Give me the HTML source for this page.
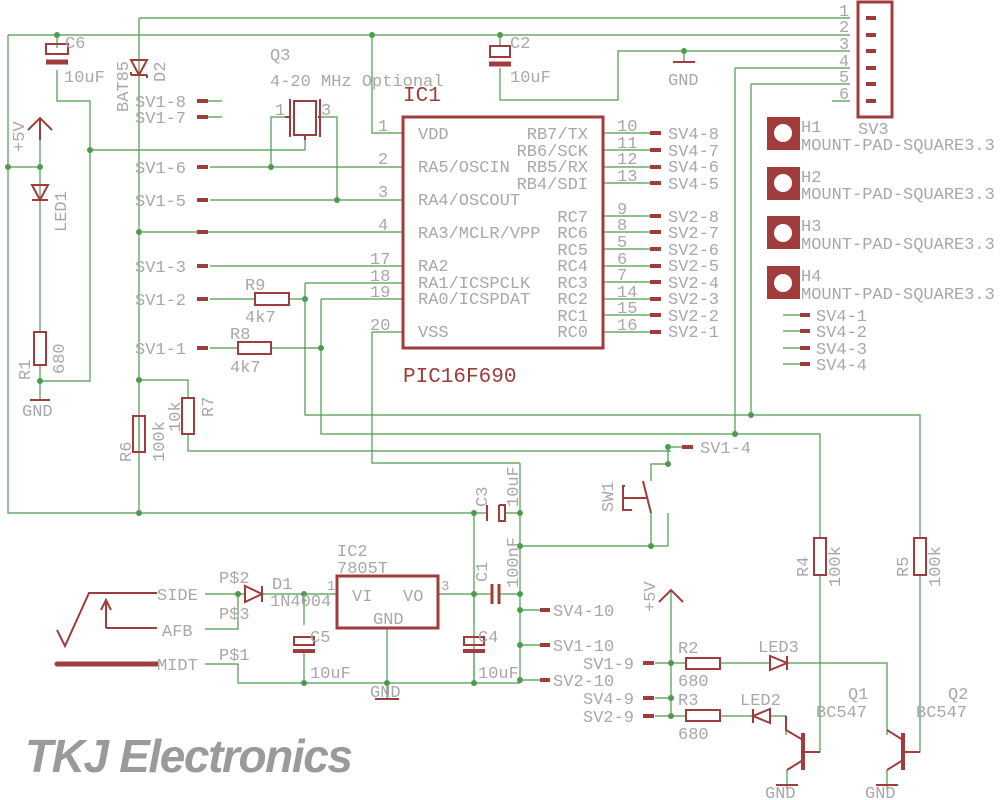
<!DOCTYPE html>
<html><head><meta charset="utf-8"><style>
html,body{margin:0;padding:0;background:#fff;}
svg{display:block}
.w{stroke:#4e9a4e;stroke-width:1.2;fill:none}
.p{stroke:#a03c3c;stroke-width:2;fill:none}
.pt{stroke:#a03c3c;stroke-width:4;fill:none}
.j{fill:#4e9a4e}
text{font-family:"Liberation Mono","DejaVu Sans Mono",monospace;fill:#a8a8a8;font-size:17px}
.s{font-size:14px}
.i{font-size:15px}
.r{fill:#a03c3c}
</style></head><body>
<svg width="1004" height="800" viewBox="0 0 1004 800" xmlns="http://www.w3.org/2000/svg">
<g class="w">
<path d="M139 18H850M8 35H850M8 35V513H474M139 18V513"/>
<path d="M372 35V133H402"/>
<path d="M500 35V45M500 68V100H618V51H850M684 51V62"/>
<path d="M57 35V48M57 70V101H90V381H40M90 150H305V140"/>
<path d="M735 68H850M735 68V434M751 84H850M751 84V415"/>
<path d="M832 101H850"/>
<path d="M40 130V332M40 365V400M8 167H40"/>
<path d="M222 101H200M222 117H200"/>
<path d="M210 167H402M271 167V117H285M210 200H402M337 200V117H318"/>
<path d="M139 232H402M210 266H402"/>
<path d="M210 299H255M289 299H305M305 283H402M305 283V415H920V538M920 575V752H905"/>
<path d="M321 299H402M321 299V434H820V538M820 575V752H806"/>
<path d="M210 348H238M271 348H321"/>
<path d="M372 332H402M372 332V463H520"/>
<path d="M139 380H188V398M188 434V451H671M671 447H690"/>
<path d="M139 416V452"/>
<path d="M474 513V683M520 463V683M474 513H488M505 513H520"/>
<path d="M520 546H651V513M668 513V546H651M651 481V464H668V447"/>
<path d="M438 594H492M499 594H520M520 610H540M520 645H540M520 680H540"/>
<path d="M387 628V699"/>
<path d="M205 664H238V683H520M205 594H245M262 594H337M205 629H238V594"/>
<path d="M304 594V625M304 650V683M474 625V594M474 650V683"/>
<path d="M671 590V716M655 663H686M720 663H770M787 663H887V735M655 698H671M655 716H686M720 716H753M770 716H786V735"/>
<path d="M603 133H655M603 150H655M603 167H655M603 183H655M603 216H655M603 232H655M603 249H655M603 266H655M603 282H655M603 299H655M603 315H655M603 332H655"/>
<path d="M783 315H800M783 331H800M783 348H800M783 364H800"/>
<path d="M787 770V790M887 770V790"/>
</g>
<g class="j">
<circle cx="57" cy="35" r="3"/><circle cx="372" cy="35" r="3"/><circle cx="684" cy="51" r="3"/><circle cx="500" cy="35" r="3"/>
<circle cx="90" cy="150" r="3"/><circle cx="8" cy="167" r="3"/><circle cx="40" cy="167" r="3"/><circle cx="271" cy="167" r="3"/><circle cx="337" cy="200" r="3"/>
<circle cx="139" cy="232" r="3"/><circle cx="305" cy="299" r="3"/><circle cx="321" cy="348" r="3"/><circle cx="139" cy="380" r="3"/><circle cx="40" cy="381" r="3"/>
<circle cx="139" cy="513" r="3"/><circle cx="474" cy="513" r="3"/><circle cx="520" cy="513" r="3"/><circle cx="520" cy="546" r="3"/><circle cx="651" cy="546" r="3"/>
<circle cx="668" cy="447" r="3"/><circle cx="668" cy="464" r="3"/><circle cx="735" cy="434" r="3"/><circle cx="751" cy="415" r="3"/>
<circle cx="474" cy="594" r="3"/><circle cx="520" cy="594" r="3"/><circle cx="520" cy="610" r="3"/><circle cx="520" cy="645" r="3"/><circle cx="520" cy="680" r="3"/><circle cx="474" cy="683" r="3"/>
<circle cx="238" cy="594" r="3"/><circle cx="304" cy="594" r="3"/><circle cx="304" cy="683" r="3"/><circle cx="387" cy="683" r="3"/>
<circle cx="671" cy="663" r="3"/><circle cx="671" cy="698" r="3"/><circle cx="671" cy="716" r="3"/>
</g>
<g class="p">
<rect x="403" y="117" width="200" height="231" stroke-width="3"/>
<rect x="858" y="2" width="34" height="115" stroke-width="3"/>
<rect x="337" y="576" width="101" height="52" stroke-width="3"/>
<rect x="34" y="332" width="12" height="33"/>
<rect x="133" y="416" width="12" height="36"/>
<rect x="182" y="398" width="12" height="36"/>
<rect x="255" y="293" width="34" height="12"/>
<rect x="238" y="342" width="33" height="12"/>
<rect x="814" y="538" width="12" height="37"/>
<rect x="914" y="538" width="12" height="37"/>
<rect x="686" y="658" width="34" height="11"/>
<rect x="686" y="710" width="34" height="11"/>
<rect x="294" y="101" width="22" height="34"/>
<path d="M290 99V137M320 99V137M285 117H290M318 117H320M305 135V140"/>
<path d="M46 44H68V54H46Z"/><path d="M46 62H68" stroke-width="5"/>
<path d="M490 57H510V46H490Z"/><path d="M489 64H511" stroke-width="5"/>
<path d="M28 130L40 118L52 130M40 118V140"/>
<path d="M659 602L671 590L683 602"/>
<path d="M32 185H48L40 200Z M32 200H48"/>
<path d="M131 60H147L139 75Z M131 75H147M131 75V72M147 75V78"/>
<path d="M245 586V602L262 594Z M262 586V602"/>
<path d="M770 656V670L787 663Z M787 656V670"/>
<path d="M770 709V723L753 716Z M753 709V723"/>
<path d="M487 505V521M499 505V521H505V505H499"/>
<path d="M492 584V604M499 584V604" stroke-width="3"/>
<path d="M294 637H314V645H294Z"/><path d="M293 651H315" stroke-width="4"/>
<path d="M464 637H484V645H464Z"/><path d="M463 651H485" stroke-width="4"/>
<path d="M803 733V770" stroke-width="4"/><path d="M820 752H803M803 740L786 730V716M803 760L787 770"/>
<path d="M903 733V770" stroke-width="4"/><path d="M920 752H903M903 740L887 730M903 760L887 770"/>
<path d="M625 486H623V510H632M623 498H647"/>
<path d="M643 481L651 513"/>
<path d="M57 630L65 646L89 593H157M106 628V600M101 610L106 600L111 610M106 628H157"/>
<path d="M57 664H157" stroke-width="5" stroke-linecap="round"/>
<path d="M30 400H50M375 699H399M673 62H695M776 785H798M876 785H898"/>
</g>
<g class="pt">
<path d="M197 101H208M197 117H208M197 167H208M197 200H208M197 232H208M197 266H208M197 299H208M197 348H208M650 133H661M650 150H661M650 167H661M650 183H661M650 216H661M650 232H661M650 249H661M650 266H661M650 282H661M650 299H661M650 315H661M650 332H661M866 18H876M866 35H876M866 51H876M866 68H876M866 84H876M866 101H876M800 315H810M800 331H810M800 348H810M800 364H810M682 447H693M540 610H550M540 645H550M540 680H550M643 663H654M643 698H654M643 716H654"/>
</g>
<g class="r">
<path d="M767 117h33v33h-33z M767 167h33v33h-33z M767 216h33v33h-33z M767 266h33v33h-33z"/>
</g>
<g fill="#fff"><circle cx="783" cy="133" r="9"/><circle cx="783" cy="183" r="9"/><circle cx="783" cy="233" r="9"/><circle cx="783" cy="283" r="9"/></g>
<text x="403" y="101" style="font-size:21px;fill:#a03c3c">IC1</text>
<text x="403" y="382" style="font-size:21px;fill:#a03c3c">PIC16F690</text>
<text x="270" y="60">Q3</text><text x="270" y="86">4-20 MHz Optional</text>
<text x="65" y="48">C6</text><text x="64" y="82">10uF</text>
<text x="510" y="48">C2</text><text x="510" y="82">10uF</text>
<text x="668" y="85">GND</text><text x="22" y="416">GND</text><text x="370" y="697">GND</text><text x="765" y="798">GND</text><text x="865" y="798">GND</text>
<text x="135" y="107">SV1-8</text><text x="135" y="123">SV1-7</text>
<text x="135" y="173">SV1-6</text><text x="135" y="206">SV1-5</text>
<text x="135" y="272">SV1-3</text><text x="135" y="305">SV1-2</text><text x="135" y="354">SV1-1</text>
<text x="245" y="290">R9</text><text x="245" y="322">4k7</text>
<text x="230" y="339">R8</text><text x="230" y="372">4k7</text>
<g class="s">
<text x="378" y="131">1</text><text x="378" y="164">2</text><text x="378" y="197">3</text><text x="378" y="230">4</text>
<text x="370" y="264">17</text><text x="370" y="281">18</text><text x="370" y="297">19</text><text x="370" y="330">20</text>
<text x="617" y="131">10</text><text x="617" y="148">11</text><text x="617" y="164">12</text><text x="617" y="181">13</text>
<text x="617" y="214">9</text><text x="617" y="230">8</text><text x="617" y="247">5</text><text x="617" y="264">6</text><text x="617" y="280">7</text><text x="617" y="297">14</text><text x="617" y="313">15</text><text x="617" y="330">16</text>
<text x="839" y="16">1</text><text x="839" y="32">2</text><text x="839" y="49">3</text><text x="839" y="66">4</text><text x="839" y="82">5</text><text x="839" y="99">6</text>
<text x="275" y="115">1</text><text x="321" y="115">3</text>
</g>
<g class="i">
<text x="418" y="139">VDD</text><text x="418" y="172">RA5/OSCIN</text><text x="418" y="205">RA4/OSCOUT</text><text x="418" y="238">RA3/MCLR/VPP</text>
<text x="418" y="271">RA2</text><text x="418" y="288">RA1/ICSPCLK</text><text x="418" y="304">RA0/ICSPDAT</text><text x="418" y="337">VSS</text>
<g text-anchor="end">
<text x="588" y="139">RB7/TX</text><text x="588" y="156">RB6/SCK</text><text x="588" y="172">RB5/RX</text><text x="588" y="189">RB4/SDI</text>
<text x="588" y="222">RC7</text><text x="588" y="238">RC6</text><text x="588" y="255">RC5</text><text x="588" y="271">RC4</text><text x="588" y="288">RC3</text><text x="588" y="304">RC2</text><text x="588" y="321">RC1</text><text x="588" y="337">RC0</text>
</g>
<text x="352" y="601">VI</text><text x="403" y="601">VO</text><text x="373" y="624">GND</text>
</g>
<text x="668" y="139">SV4-8</text><text x="668" y="156">SV4-7</text><text x="668" y="172">SV4-6</text><text x="668" y="189">SV4-5</text>
<text x="668" y="222">SV2-8</text><text x="668" y="238">SV2-7</text><text x="668" y="255">SV2-6</text><text x="668" y="271">SV2-5</text><text x="668" y="288">SV2-4</text><text x="668" y="304">SV2-3</text><text x="668" y="321">SV2-2</text><text x="668" y="337">SV2-1</text>
<text x="858" y="134">SV3</text>
<text x="801" y="132">H1</text><text x="801" y="150">MOUNT-PAD-SQUARE3.3</text>
<text x="801" y="182">H2</text><text x="801" y="199">MOUNT-PAD-SQUARE3.3</text>
<text x="801" y="231">H3</text><text x="801" y="249">MOUNT-PAD-SQUARE3.3</text>
<text x="801" y="281">H4</text><text x="801" y="299">MOUNT-PAD-SQUARE3.3</text>
<text x="816" y="321">SV4-1</text><text x="816" y="337">SV4-2</text><text x="816" y="354">SV4-3</text><text x="816" y="370">SV4-4</text>
<text x="700" y="453">SV1-4</text>
<text x="553" y="616">SV4-10</text><text x="553" y="651">SV1-10</text><text x="553" y="686">SV2-10</text>
<text x="583" y="669">SV1-9</text><text x="583" y="704">SV4-9</text><text x="583" y="722">SV2-9</text>
<text x="678" y="653">R2</text><text x="678" y="686">680</text><text x="678" y="705">R3</text><text x="678" y="739">680</text>
<text x="758" y="652">LED3</text><text x="740" y="705">LED2</text>
<text x="848" y="699">Q1</text><text x="816" y="717">BC547</text><text x="948" y="699">Q2</text><text x="916" y="717">BC547</text>
<text x="337" y="556">IC2</text><text x="337" y="573">7805T</text>
<text x="327" y="590" class="s">1</text><text x="441" y="590" class="s">3</text>
<text x="272" y="589">D1</text><text x="270" y="606">1N4004</text>
<text x="310" y="642">C5</text><text x="310" y="678">10uF</text>
<text x="478" y="642">C4</text><text x="478" y="678">10uF</text>
<text x="219" y="583">P$2</text><text x="219" y="619">P$3</text><text x="219" y="660">P$1</text>
<text x="157" y="600">SIDE</text><text x="162" y="636">AFB</text><text x="157" y="670">MIDT</text>
<text transform="translate(24,152) rotate(-90)">+5V</text>
<text transform="translate(655,612) rotate(-90)">+5V</text>
<text transform="translate(66,232) rotate(-90)">LED1</text>
<text transform="translate(128,112) rotate(-90)">BAT85</text>
<text transform="translate(165,82) rotate(-90)">D2</text>
<text transform="translate(30,380) rotate(-90)">R1</text>
<text transform="translate(64,374) rotate(-90)">680</text>
<text transform="translate(131,462) rotate(-90)">R6</text>
<text transform="translate(164,462) rotate(-90)">100k</text>
<text transform="translate(180,432) rotate(-90)">10k</text>
<text transform="translate(213,417) rotate(-90)">R7</text>
<text transform="translate(487,507) rotate(-90)">C3</text>
<text transform="translate(518,507) rotate(-90)">10uF</text>
<text transform="translate(518,588) rotate(-90)">100nF</text>
<text transform="translate(487,582) rotate(-90)">C1</text>
<text transform="translate(613,512) rotate(-90)">SW1</text>
<text transform="translate(808,577) rotate(-90)">R4</text>
<text transform="translate(840,587) rotate(-90)">100k</text>
<text transform="translate(908,577) rotate(-90)">R5</text>
<text transform="translate(940,587) rotate(-90)">100k</text>
<text x="25" y="772" style="font-family:'Liberation Sans',sans-serif;font-size:46px;font-weight:bold;font-style:italic;fill:#9a9a9a" textLength="328">TKJ Electronics</text>
</svg>
</body></html>
